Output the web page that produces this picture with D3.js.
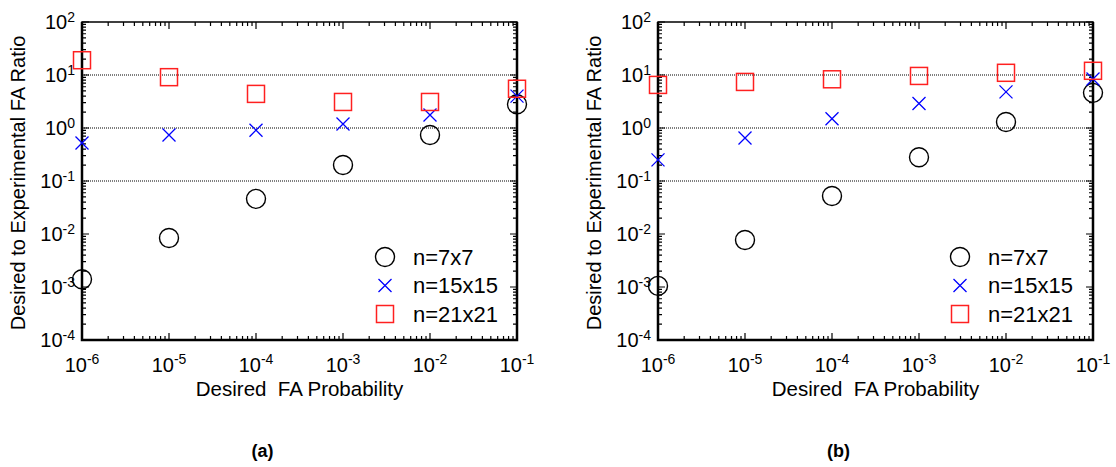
<!DOCTYPE html>
<html>
<head>
<meta charset="utf-8">
<script src="https://cdn.jsdelivr.net/npm/d3@7"></script>
<style>
  body { margin: 0; background: #fff; }
  text { font-family: "Liberation Sans", Arial, sans-serif; }
</style>
</head>
<body>
<div id="chart-area"></div>
<script>
var xValues = [1e-6, 1e-5, 1e-4, 1e-3, 1e-2, 1e-1];
var xTickExps = [-6, -5, -4, -3, -2, -1];
var yTickExps = [2, 1, 0, -1, -2, -3, -4];
var gridValues = [10, 1, 0.1];
var seriesNames = ["n=7x7", "n=15x15", "n=21x21"];

// panel (a)
var a7 = [1.4e-3, 8.4e-3, 0.046, 0.2, 0.74, 2.8];
var a15 = [0.52, 0.74, 0.91, 1.19, 1.76, 4.0];
var a21 = [19, 9.1, 4.4, 3.1, 3.1, 5.5];

// panel (b)
var b7 = [1.05e-3, 7.7e-3, 0.052, 0.28, 1.3, 4.6];
var b15 = [0.25, 0.65, 1.5, 2.9, 4.8, 8.4];
var b21 = [6.5, 7.4, 8.3, 9.6, 11, 12];

var svg = d3.select("#chart-area")
  .append("svg")
  .attr("width", 1116)
  .attr("height", 467);

var width = 435;
var height = 318;

function drawMarker(sel, kind) {
  if (kind === 0) {
    sel.append("circle")
      .attr("r", 9.5)
      .attr("fill", "none")
      .attr("stroke", "#000")
      .attr("stroke-width", 1.4);
  } else if (kind === 1) {
    sel.append("path")
      .attr("d", "M-6.5,-6.5L6.5,6.5M-6.5,6.5L6.5,-6.5")
      .attr("fill", "none")
      .attr("stroke", "#0000ff")
      .attr("stroke-width", 1.3);
  } else {
    sel.append("rect")
      .attr("x", -8.5).attr("y", -8.5)
      .attr("width", 17).attr("height", 17)
      .attr("fill", "none")
      .attr("stroke", "#ff2020")
      .attr("stroke-width", 1.5);
  }
}

function drawPanel(left, series, caption, legendX) {
  var g = svg.append("g")
    .attr("transform", "translate(" + left + ",22)");

  var x = d3.scaleLog().domain([1e-6, 1e-1]).range([0, width]);
  var y = d3.scaleLog().domain([1e-4, 1e2]).range([height, 0]);

  // grid lines
  g.selectAll(".grid")
    .data(gridValues)
    .enter()
    .append("line")
    .attr("x1", 0).attr("x2", width)
    .attr("y1", d => y(d)).attr("y2", d => y(d))
    .attr("stroke", "#555")
    .attr("stroke-width", 1.4)
    .attr("stroke-dasharray", "1,1");

  // minor + major ticks (inward, all four sides)
  var xTicks = x.ticks();
  var yTicks = y.ticks();
  function isMajor(v) {
    var l = Math.log10(v);
    return Math.abs(l - Math.round(l)) < 1e-9;
  }
  g.selectAll(".xt")
    .data(xTicks)
    .enter()
    .append("path")
    .attr("d", function(d) {
      var len = isMajor(d) ? 7 : 4;
      var px = x(d);
      return "M" + px + "," + height + "V" + (height - len) +
        "M" + px + ",0V" + len;
    })
    .attr("stroke", "#000")
    .attr("stroke-width", 1.2);
  g.selectAll(".yt")
    .data(yTicks)
    .enter()
    .append("path")
    .attr("d", function(d) {
      var len = isMajor(d) ? 7 : 4;
      var py = y(d);
      return "M0," + py + "H" + len +
        "M" + width + "," + py + "H" + (width - len);
    })
    .attr("stroke", "#000")
    .attr("stroke-width", 1.2);

  // frame
  g.append("rect")
    .attr("width", width).attr("height", height)
    .attr("fill", "none")
    .attr("stroke", "#000")
    .attr("stroke-width", 1.5);
  g.append("path")
    .attr("d", "M0,0V" + height + "H" + width + "V0")
    .attr("fill", "none")
    .attr("stroke", "#000")
    .attr("stroke-width", 2.5);

  // y tick labels
  var yl = g.selectAll(".yl")
    .data(yTickExps)
    .enter()
    .append("text")
    .attr("x", -7)
    .attr("y", d => y(Math.pow(10, d)))
    .attr("dy", "0.36em")
    .attr("text-anchor", "end")
    .attr("font-size", "20px");
  yl.append("tspan").text("10");
  yl.append("tspan")
    .attr("dy", "-0.55em")
    .attr("font-size", "14px")
    .text(d => d);

  // x tick labels
  var xl = g.selectAll(".xl")
    .data(xTickExps)
    .enter()
    .append("text")
    .attr("x", d => x(Math.pow(10, d)))
    .attr("y", height + 32)
    .attr("text-anchor", "middle")
    .attr("font-size", "20px");
  xl.append("tspan").text("10");
  xl.append("tspan")
    .attr("dy", "-0.55em")
    .attr("font-size", "14px")
    .text(d => d);

  // axis titles
  g.append("text")
    .attr("x", width / 2)
    .attr("y", height + 56)
    .attr("text-anchor", "middle")
    .attr("font-size", "20.5px")
    .style("white-space", "pre")
    .text("Desired  FA Probability");

  g.append("text")
    .attr("transform", "translate(-57," + (height / 2 + 2) + ") rotate(-90)")
    .attr("text-anchor", "middle")
    .attr("font-size", "20px")
    .text("Desired to Experimental FA Ratio");

  // points
  series.forEach(function(vals, k) {
    g.selectAll(".s" + k)
      .data(vals)
      .enter()
      .append("g")
      .attr("transform", (d, i) => "translate(" + x(xValues[i]) + "," + y(d) + ")")
      .each(function() { drawMarker(d3.select(this), k); });
  });

  // legend
  var legend = g.selectAll(".legend")
    .data(seriesNames)
    .enter()
    .append("g")
    .attr("transform", (d, i) => "translate(" + legendX + "," + (235 + i * 28.5) + ")");
  legend.each(function(d, i) { drawMarker(d3.select(this), i); });
  legend.append("text")
    .attr("x", 28)
    .attr("y", 7.5)
    .attr("font-size", "22px")
    .text(d => d);

  // caption
  svg.append("text")
    .attr("x", left + width / 2 - 37)
    .attr("y", 457)
    .attr("text-anchor", "middle")
    .attr("font-size", "18px")
    .attr("font-weight", "bold")
    .attr("font-family", "'Open Sans', sans-serif")
    .text(caption);
}

drawPanel(82, [a7, a15, a21], "(a)", 303);
drawPanel(658, [b7, b15, b21], "(b)", 302);
</script>
</body>
</html>
